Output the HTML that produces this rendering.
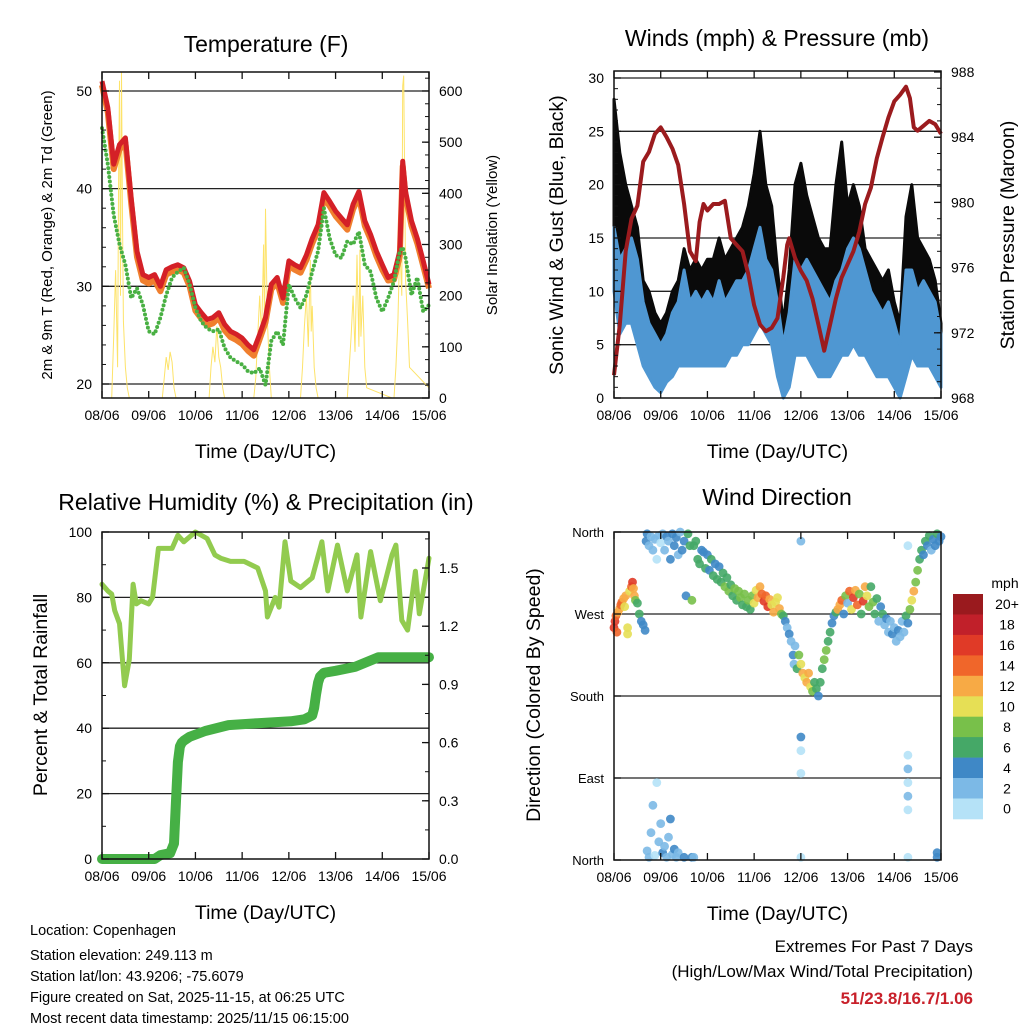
<!DOCTYPE html>
<html><head><meta charset="utf-8"><style>
html,body{margin:0;padding:0;background:#fff;}
svg{display:block;font-family:"Liberation Sans",sans-serif;}
</style></head><body>
<svg id="root" width="1024" height="1024" viewBox="0 0 1024 1024" xmlns="http://www.w3.org/2000/svg">
<rect x="0" y="0" width="1024" height="1024" fill="#fff"/>
<g id="layer"></g>
<g font-size="14.5" fill="#000">
<text x="30" y="935">Location: Copenhagen</text>
<text x="30" y="960">Station elevation: 249.113 m</text>
<text x="30" y="981">Station lat/lon: 43.9206; -75.6079</text>
<text x="30" y="1002">Figure created on Sat, 2025-11-15, at 06:25 UTC</text>
<text x="30" y="1023">Most recent data timestamp: 2025/11/15 06:15:00</text>
</g>
<g text-anchor="end" font-size="17">
<text x="973" y="952">Extremes For Past 7 Days</text>
<text x="973" y="977">(High/Low/Max Wind/Total Precipitation)</text>
<text x="973" y="1004" fill="#c8202a" font-weight="bold">51/23.8/16.7/1.06</text>
</g>
</svg>
<script>
// ---- Temperature data ----
const tHours=[0,3,6,9,12,15,18,21,24,27,30,33,36,39,42,45,48,51,54,57,60,63,66,69,72,75,78,81,84,87,90,93,96,99,102,105,108,111,114,117,120,123,126,129,132,135,138,141,144,147,150,153,154.5,156,159,162,165,168];
const temp2m=[51,48.3,42.5,44.5,45.2,39,33.6,31.2,30.9,31.2,30,31.7,32,32.2,31.9,30.5,28.1,27.3,26.6,26.8,27.3,26.1,25.4,25.1,24.7,24.0,23.5,25.1,26.8,30.2,30.9,28.8,32.6,32.2,31.9,33.2,34.9,36.3,39.6,38.7,37.7,37.0,36.3,38.4,39.7,36.7,35.3,33.6,32.2,30.9,31.2,33.6,42.8,39.7,36.7,34.9,32.6,30.2];
const temp9m=[50.6,47.8,42.0,44.0,44.7,38.5,33.0,30.6,30.3,30.6,29.5,31.2,31.5,31.7,31.4,30.0,27.5,26.7,26.0,26.2,26.8,25.5,24.8,24.5,24.1,23.4,22.9,24.6,26.3,29.7,30.4,28.3,32.1,31.7,31.4,32.7,34.4,35.8,39.1,38.2,37.2,36.5,35.8,37.9,39.2,36.2,34.8,33.1,31.7,30.6,30.7,33.1,42.3,39.2,36.2,34.4,32.1,29.8];
const dew2m=[46.2,42.5,37.3,34.3,32.2,28.8,29.8,28.1,25.4,25.1,26.8,29.1,30.9,31.5,31.9,30.2,27.8,26.4,25.7,25.4,25.6,23.7,22.7,22.3,22.0,21.3,21.1,21.6,19.9,24.4,25.4,24.0,30.2,28.8,27.8,29.1,31.5,33.6,38.0,34.9,33.2,32.9,34.6,34.3,35.6,32.2,31.5,28.8,27.4,28.8,30.5,33.6,34.0,32.9,29.1,30.9,27.4,28.1];
const solarHours=[0,5,6,7,8,8.5,9,9.5,10,10.5,11,12,13,14,31,32,33,34,35,36,37,38,55,56,57,58,59,60,61,62,63,78,79,80,81,82,83,83.5,84,85,86,87,102,103,104,105,106,107,107.5,108,109,110,111,126,127,128,129,130,131,132,132.5,133,134,135,136,149,150,151,152,153,154,154.5,155,156,157,158,168];
const solarVals=[0,0,120,250,60,400,620,200,637,380,150,60,20,0,0,40,80,55,90,70,20,0,0,60,100,70,140,80,60,20,0,0,40,120,200,120,300,130,370,150,60,0,0,60,140,200,100,270,130,180,60,20,0,0,60,120,200,90,280,100,290,120,200,60,20,0,0,60,150,300,200,610,630,230,150,60,20,0,0];
// ---- Wind data (3-hourly ranges) ----
const windHours=[0,3,6,9,12,15,18,21,24,27,30,33,36,39,42,45,48,51,54,57,60,63,66,69,72,75,78,81,84,87,90,93,96,99,102,105,108,111,114,117,120,123,126,129,132,135,138,141,144,147,150,153,156,159,162,165,168];
const windMax=[16,13,14,15,13,9,7,6,5,6,8,9,12,9,10,9,10,9,11,9,10,11,11,12,14,16,13,12,9,5,8,13,12,13,12,11,10,9,11,12,14,15,14,12,10,9,8,9,7,5,12,12,10,11,10,9,6];
const windMin=[10,6,7,7,5,3,2,1,0.5,1.5,2,3,3,3,3,3,3,3,3,3,4,4,5,5,6,7,6,5,2,0,1,4,4,4,3,2,2,2,3,4,4,5,4,4,3,2,2,2,1,0,2,4,3,3,3,2,1];
const gustMax=[28,23,20,18,16,11,10,8,7,8,10,11,14,12,13,12,13,13,15,13,14,15,16,18,21,25,20,18,12,7,12,20,22,19,17,15,14,14,20,24,18,20,18,14,13,12,11,12,9,7,17,20,15,14,13,11,7];
const gustMin=[12,10,8,8,7,5,4,3,2,3,4,4,5,5,5,5,5,5,5,5,6,6,7,8,9,10,9,8,4,1,3,7,7,7,6,5,5,5,6,8,7,8,7,6,5,4,4,4,2,1,4,6,5,5,5,4,2];
const presHours=[0,3,6,9,12,15,18,21,24,27,30,33,36,39,42,44,46,48,51,54,57,60,63,66,69,72,75,78,81,84,87,89,90,93,96,99,102,105,108,111,114,117,120,123,126,129,132,135,138,141,144,147,150,152,154,156,159,162,165,168];
const presVals=[969.4,972.5,977,979,979.8,982.5,983.1,984.2,984.6,984,983.3,982.3,979.9,977,976.4,978.8,979.9,979.5,979.9,979.9,980.1,977.8,977.4,977,975.6,973.7,972.5,972.1,972.3,972.9,975.4,977.4,977.8,976.6,975.8,975.2,974.1,972.5,970.9,972.5,974.1,975.4,976.2,977,978.2,979.9,980.9,982.7,984,985.2,986.2,986.6,987.1,986.4,984.6,984.4,984.7,985,984.8,984.2];
// ---- RH / precip ----
const rhHours=[0,3,5,6.5,9,11.6,14,16,17.6,20,24,26,29,32,36,39,42,48,54,58,61,66,73,80,84,85,89,91,94,97,102,108,113,116,121,126,131,133,138,143,149,151,154,157,161,163,168];
const rhVals=[84,82,81,76,72,53,61,84,78,79,78,80,95,95,95,99,97,100,98,93,92,91,91,89,82,74,80,77,97,85,83,86,97,82,96,82,93,74,94,79,93,96,73,70,88,75,92];
const prHours=[0,27,30,35,37,38,39,40,41,42,45,53,65,80,97,104,108,109,110,111,112,113,114,120,130,142,168];
const prVals=[0,0,0.02,0.03,0.08,0.3,0.5,0.58,0.6,0.61,0.63,0.66,0.69,0.70,0.71,0.72,0.74,0.78,0.85,0.91,0.94,0.95,0.96,0.97,0.99,1.04,1.04];
// ---- Wind direction points ----
const dirHours=[0,0.5,1,1.5,2,3,3.5,4,5,5.5,6,7,7,8,9,9.5,10,10.5,11,12,13,14,15,16,16.5,17,18,19,20,21,22,23,24,25,26,27,28,29,30,31,32,33,34,35,36,37,38,39,40,41,42,43,44,45,46,47,48,49,50,51,52,53,54,55,56,57,58,59,60,61,62,63,64,65,66,67,68,69,70,71,72,73,74,75,76,77,78,79,80,81,82,83,84,85,86,87,88,89,90,91,92,92.5,93,94,95,96,97,98,99,100,101,102,103,104,105,106,107,108,109,110,111,112,113,114,115,116,117,118,119,120,121,122,123,124,125,126,127,128,129,130,131,132,133,134,135,136,137,138,139,140,141,142,143,144,145,146,147,148,149,150,151,152,153,154,155,156,157,158,159,160,161,162,163,164,165,166,167,168,17,18,19,20,21,22,23,24,25,26,27,28,29,30,31,32,33,36,40,41,96,96,96,96,96,151,151,151,151,151,151,151,166,166];
const dirDeg=[255,262,268,250,272,276,280,283,287,278,290,255,248,295,300,305,298,290,285,282,270,262,258,252,350,358,345,355,340,352,330,356,348,358,340,355,350,330,358,345,354,335,360,340,350,290,358,345,285,345,350,330,325,340,338,320,335,318,330,312,325,308,322,305,315,300,310,295,302,290,298,285,295,288,280,292,278,285,275,290,282,296,288,300,292,284,290,278,286,280,272,283,288,276,270,268,262,255,248,240,225,215,235,210,225,215,205,200,195,205,190,185,195,188,180,195,210,220,230,240,250,260,268,272,275,280,285,270,290,282,295,275,288,296,280,292,270,284,300,290,278,300,283,270,287,262,278,270,258,265,250,262,248,255,240,252,245,262,250,268,260,275,285,295,305,318,330,340,335,350,345,356,340,352,345,358,350,355,10,3,30,60,5,85,20,40,8,15,3,25,45,6,12,3,8,3,3,3,350,120,135,95,3,115,100,85,70,55,3,345,8,3];
const dirSpeed=[16,17,15,14,13,12,14,15,12,10,13,11,11,10,14,16,13,12,8,7,6,5,4,4,4,4,3,2,2,3,1,2,1,3,2,4,3,4,4,5,4,2,3,5,4,4,6,6,8,6,7,7,6,4,4,7,5,4,6,6,5,7,4,7,6,8,7,8,7,6,8,7,9,8,6,8,7,8,6,9,10,10,12,13,15,16,14,17,12,11,13,10,10,12,8,6,4,3,4,3,4,2,3,6,9,10,12,11,12,12,10,8,7,6,4,6,7,8,8,7,6,5,4,7,13,12,14,4,8,3,14,10,16,12,15,8,6,16,12,10,8,6,9,7,7,3,5,6,3,4,3,2,4,3,2,4,3,2,3,6,4,8,10,12,8,8,6,6,4,6,4,6,3,5,4,6,4,5,3,2,3,2,1,1,2,3,4,2,3,3,4,2,4,3,2,4,4,3,2,1,4,1,1,1,2,1,2,1,1,1,4,4];
const dayLabels=["08/06","09/06","10/06","11/06","12/06","13/06","14/06","15/06"];
const speedBins=["0","2","4","6","8","10","12","14","16","18","20+"];
const speedColors=["#b5e2f7","#7cb9e6","#3f88c6","#45a867","#78c04a","#e6df55","#f7aa45","#f0662a","#e03a27","#c1202a","#9a1a1e"];

const NS="http://www.w3.org/2000/svg";
const layer=document.getElementById('layer');
function mk(tag,attrs,parent){const e=document.createElementNS(NS,tag);for(const k in attrs)e.setAttribute(k,attrs[k]);(parent||layer).appendChild(e);return e;}
function txt(x,y,s,attrs,parent){const t=mk('text',Object.assign({x:x,y:y},attrs||{}),parent);t.textContent=s;return t;}

const P={
 temp:{x0:102,x1:429,y0:72,y1:398},
 wind:{x0:614,x1:941,y0:71,y1:398},
 rh:{x0:102,x1:429,y0:532,y1:859},
 dir:{x0:614,x1:941,y0:532,y1:860}
};
function xf(p){return h=>p.x0+h*(p.x1-p.x0)/168;}
const xT=xf(P.temp),xW=xf(P.wind),xR=xf(P.rh),xD=xf(P.dir);
const yT=v=>384-(v-20)*9.767;
const yS=v=>398-v*0.5117;
const yW=v=>398-v*10.667;
const yP=v=>398-(v-968)*16.3;
const yR=v=>859-v*3.27;
const yPr=v=>859-v*194;
const yD=d=>860-d*(328/360);

function pathFrom(xs,ys,xfn,yfn){return xs.map((h,i)=>(i?'L':'M')+xfn(h).toFixed(1)+','+yfn(ys[i]).toFixed(1)).join('');}

function panelBase(p,name,grid,gy){
 const g=mk('g',{});
 
 
 grid.forEach(v=>{mk('line',{x1:p.x0,x2:p.x1,y1:gy(v),y2:gy(v),stroke:'#222','stroke-width':1.3},g);});
}
function panelFrame(p,name,xfn){
 const g=mk('g',{});
 
 
 mk('rect',{x:p.x0,y:p.y0,width:p.x1-p.x0,height:p.y1-p.y0,fill:'none',stroke:'#111','stroke-width':1.5},g);
 const xa=mk('g',{});
 
 
 for(let d=0;d<=7;d++){const x=xfn(d*24);
  mk('line',{x1:x,x2:x,y1:p.y1,y2:p.y1-7,stroke:'#111','stroke-width':1.3},xa);
  mk('line',{x1:x,x2:x,y1:p.y0,y2:p.y0+7,stroke:'#111','stroke-width':1.3},xa);
  const t=txt(x,p.y1+22,dayLabels[d],{'font-size':14,'text-anchor':'middle'},xa);
  
  
 }
 const xt=txt((p.x0+p.x1)/2,p.y1+60,'Time (Day/UTC)',{'font-size':19.5,'text-anchor':'middle'});
 
 
}
function yAxis(p,name,side,vals,labels,yfn,minor,fs){
 const g=mk('g',{});
 
 
 const x=side==='left'?p.x0:p.x1;const dir=side==='left'?1:-1;
 vals.forEach((v,i)=>{const y=yfn(v);
  mk('line',{x1:x,x2:x+dir*7,y1:y,y2:y,stroke:'#111','stroke-width':1.3},g);
  const t=txt(side==='left'?x-10:x+10,y+5,labels[i],{'font-size':fs||14,'text-anchor':side==='left'?'end':'start'},g);
  
  
 });
 (minor||[]).forEach(v=>{const y=yfn(v);if(y<p.y0||y>p.y1)return;mk('line',{x1:x,x2:x+dir*4,y1:y,y2:y,stroke:'#111','stroke-width':1},g);});
}
function rng(a,b,s){const r=[];for(let v=a;v<=b+1e-9;v+=s)r.push(+v.toFixed(3));return r;}
function vTitle(x,y,s,fs,name){const t=txt(x,y,s,{'font-size':fs,'text-anchor':'middle',transform:'rotate(-90 '+x+' '+y+')'});}
function title(x,y,s,name){const t=txt(x,y,s,{'font-size':23,'text-anchor':'middle'});}

// ===== Temperature panel =====
title(266,52,'Temperature (F)','temperature-title');
panelBase(P.temp,'temperature',[20,30,40,50],yT);
{const s=mk('path',{d:pathFrom(solarHours,solarVals,xT,yS),fill:'none',stroke:'#fde36a','stroke-width':1});
 
 }
{const o=mk('path',{d:pathFrom(tHours,temp9m,xT,yT),fill:'none',stroke:'#f07f2e','stroke-width':6,'stroke-linejoin':'round'});
 
 
 const r=mk('path',{d:pathFrom(tHours,temp2m,xT,yT),fill:'none',stroke:'#d42027','stroke-width':5,'stroke-linejoin':'round'});
 
 
 const g=mk('path',{d:pathFrom(tHours,dew2m,xT,yT),fill:'none',stroke:'#49b043','stroke-width':4,'stroke-linecap':'round','stroke-dasharray':'0 4.5'});
 
 }
panelFrame(P.temp,'temperature',xT);
yAxis(P.temp,'temperature','left',[20,30,40,50],['20','30','40','50'],yT,rng(20,50,2));
yAxis(P.temp,'solar','right',[0,100,200,300,400,500,600],['0','100','200','300','400','500','600'],yS,rng(0,625,25));
vTitle(52,235,'2m & 9m T (Red, Orange) & 2m Td (Green)',15,'temperature-y-axis-title');
vTitle(497,235,'Solar Insolation (Yellow)',15,'solar-y-axis-title');

// ===== Wind panel =====
title(777,46,'Winds (mph) & Pressure (mb)','winds-title');
panelBase(P.wind,'winds',[5,10,15,20,25,30],yW);
function band(hs,mx,mn,color,name){
 let d='M'+hs.map((h,i)=>xW(h).toFixed(1)+','+yW(mx[i]).toFixed(1)).join('L');
 for(let i=hs.length-1;i>=0;i--)d+='L'+xW(hs[i]).toFixed(1)+','+yW(mn[i]).toFixed(1);
 const e=mk('path',{d:d+'Z',fill:color,stroke:color,'stroke-width':3,'stroke-linejoin':'round'});
 
 
}
band(windHours,gustMax,gustMin,'#0a0a0a','gust-band');
band(windHours,windMax,windMin,'#4f97d2','sonic-wind-band');
{const pr=mk('path',{d:pathFrom(presHours,presVals,xW,yP),fill:'none',stroke:'#9b1b1e','stroke-width':4,'stroke-linejoin':'round'});
 
 }
panelFrame(P.wind,'winds',xW);
yAxis(P.wind,'winds','left',[0,5,10,15,20,25,30],['0','5','10','15','20','25','30'],yW,rng(0,30,1));
yAxis(P.wind,'pressure','right',[968,972,976,980,984,988],['968','972','976','980','984','988'],yP,rng(968,988,1));
vTitle(563,235,'Sonic Wind & Gust (Blue, Black)',19.5,'winds-y-axis-title');
vTitle(1014,235,'Station Pressure (Maroon)',19.5,'pressure-y-axis-title');

// ===== RH panel =====
title(266,510,'Relative Humidity (%) & Precipitation (in)','humidity-title');
panelBase(P.rh,'humidity',[20,40,60,80],yR);
{const pp=mk('path',{d:pathFrom(prHours,prVals,xR,yPr),fill:'none',stroke:'#46b045','stroke-width':10,'stroke-linejoin':'round','stroke-linecap':'round'});
 
 
 const rh=mk('path',{d:pathFrom(rhHours,rhVals,xR,yR),fill:'none',stroke:'#92cb4f','stroke-width':5,'stroke-linejoin':'round','stroke-linecap':'round'});
 
 }
panelFrame(P.rh,'humidity',xR);
yAxis(P.rh,'humidity','left',[0,20,40,60,80,100],['0','20','40','60','80','100'],yR,rng(0,100,10));
yAxis(P.rh,'precip','right',[0,0.3,0.6,0.9,1.2,1.5],['0.0','0.3','0.6','0.9','1.2','1.5'],yPr,rng(0,1.65,0.15));
vTitle(47,695,'Percent & Total Rainfall',19.5,'humidity-y-axis-title');

// ===== Wind direction panel =====
title(777,505,'Wind Direction','wind-direction-title');
panelBase(P.dir,'direction',[90,180,270],yD);
{const g=mk('g',{});
 
 
 dirHours.forEach((h,i)=>{const b=Math.min(10,Math.floor(dirSpeed[i]/2));
  const c=mk('circle',{cx:xD(h).toFixed(1),cy:yD(dirDeg[i]).toFixed(1),r:4.4,fill:speedColors[b],'fill-opacity':0.9},g);
  
  
 });}
panelFrame(P.dir,'direction',xD);
yAxis(P.dir,'direction','left',[0,90,180,270,360],['North','East','South','West','North'],yD,[],13);
vTitle(540,695,'Direction (Colored By Speed)',19.5,'direction-y-axis-title');
{const g=mk('g',{});
 
 
 const t=txt(1005,588,'mph',{'font-size':14,'text-anchor':'middle'},g);
 
 
 const top=594,h=20.45;
 speedBins.forEach((lab,i)=>{const k=10-i;const y=top+i*h;
  const r=mk('rect',{x:953,y:y.toFixed(1),width:30,height:(h+0.3).toFixed(1),fill:speedColors[k]},g);
  
  
  const l=txt(1007,y+h/2+5,speedBins[k],{'font-size':14,'text-anchor':'middle'},g);
  
  
 });}
</script>
</body></html>
